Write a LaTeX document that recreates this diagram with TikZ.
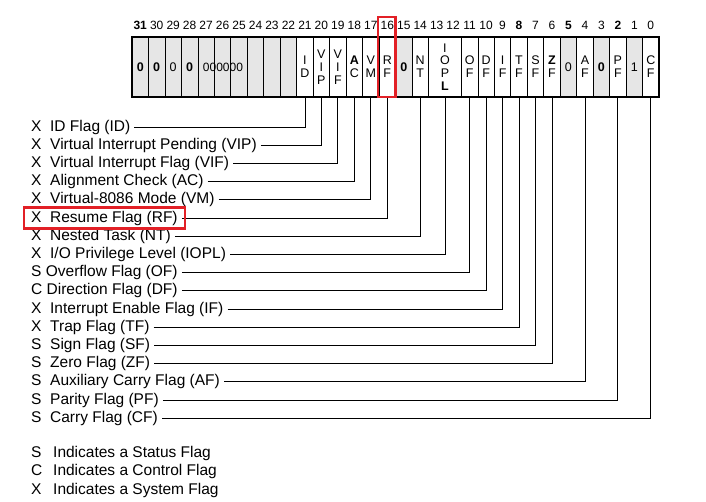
\documentclass[tikz,border=0pt]{standalone}
\usepackage{fontspec}
\setmainfont{Liberation Sans}
\usepackage{xcolor}
\usetikzlibrary{fit}
\definecolor{regGray}{RGB}{230,230,230}
\definecolor{markRed}{RGB}{226,32,38}
\newcommand{\kind}[1]{\makebox[19pt][l]{#1}}
\newcommand{\legkind}[1]{\makebox[22pt][l]{#1}}
\tikzset{
    bit-cell/.style = {draw, line width=0.7pt, minimum width=16.47pt, minimum height=60pt, inner sep=0pt, outer sep=0pt, align=center, font=\fontsize{12.5}{12.8}\selectfont},
    res-cell/.style = {bit-cell, fill=regGray},
    bit-num/.style = {inner sep=0pt, font=\fontsize{12}{12.5}\selectfont},
    flag-label/.style = {anchor=west, inner sep=0pt, font=\fontsize{15.5}{18}\selectfont},
    flag-line/.style = {line width=0.8pt},
    red-mark/.style = {draw=markRed, line width=2.3pt},
}

\begin{document}
\begin{tikzpicture}[x=1pt, y=-1pt]
\useasboundingbox (0,0) rectangle (706,502);
% bit numbers
\foreach \b in {0,1,3,4,6,7,9,10,...,30} {
    \pgfmathsetmacro\cx{132+(31.5-\b)*16.47}
    \node[bit-num] (num-\b) at (\cx,25) {\b};
}
\foreach \b in {2,5,8,31} {
    \pgfmathsetmacro\cx{132+(31.5-\b)*16.47}
    \node[bit-num, font=\fontsize{12}{12.5}\selectfont\bfseries] (num-\b) at (\cx,25) {\b};
}
% reserved bits
\foreach \b/\t in {31/\textbf{0}, 30/\textbf{0}, 29/0, 28/\textbf{0}, 27/{}, 26/{}, 25/{}, 24/{}, 23/{}, 22/{}, 15/\textbf{0}, 5/0, 3/\textbf{0}, 1/1} {
    \pgfmathsetmacro\cx{132+(31.5-\b)*16.47}
    \node[res-cell] (cell-\b) at (\cx,67) {\t};
}
\node[bit-num] (res-zeros) at (223,67) {000000};
% flag bits
\foreach \b/\n/\t in {21/ID/{I\\D}, 20/VIP/{V\\I\\P}, 19/VIF/{V\\I\\F}, 18/AC/{\textbf{A}\\C}, 17/VM/{V\\M}, 16/RF/{R\\F}, 14/NT/{N\\T}, 11/OF/{O\\F}, 10/DF/{D\\F}, 9/IF/{I\\F}, 8/TF/{T\\F}, 7/SF/{S\\F}, 6/ZF/{\textbf{Z}\\F}, 4/AF/{A\\F}, 2/PF/{P\\F}, 0/CF/{C\\F}} {
    \pgfmathsetmacro\cx{132+(31.5-\b)*16.47}
    \node[bit-cell] (cell-\n) at (\cx,67) {\t};
}
\node[bit-cell, minimum width=32.94pt] (cell-IOPL) at (444.93,67) {I\\O\\P\\\textbf{L}};
\draw[line width=2.4pt] (cell-31.north west) rectangle (cell-CF.south east);
% flag names
\foreach \n/\t [count=\k from 0] in {ID/{\kind{X}ID Flag (ID)}, VIP/{\kind{X}Virtual Interrupt Pending (VIP)}, VIF/{\kind{X}Virtual Interrupt Flag (VIF)}, AC/{\kind{X}Alignment Check (AC)}, VM/{\kind{X}Virtual-8086 Mode (VM)}, RF/{\kind{X}Resume Flag (RF)}, NT/{\kind{X}Nested Task (NT)}, IOPL/{\kind{X}I/O Privilege Level (IOPL)}, OF/{S Overflow Flag (OF)~}, DF/{C Direction Flag (DF)~}, IF/{\kind{X}Interrupt Enable Flag (IF)}, TF/{\kind{X}Trap Flag (TF)}, SF/{\kind{S}Sign Flag (SF)}, ZF/{\kind{S}Zero Flag (ZF)}, AF/{\kind{S}Auxiliary Carry Flag (AF)}, PF/{\kind{S}Parity Flag (PF)}, CF/{\kind{S}Carry Flag (CF)}} {
    \node[flag-label] (lbl-\n) at (31,127+18.2*\k) {\t};
    \draw[flag-line] ([xshift=4pt]lbl-\n.east) -| (cell-\n.south);
}
% legend
\node[flag-label] (leg-S) at (31,453) {\legkind{S}Indicates a Status Flag};
\node[flag-label] (leg-C) at (31,471.5) {\legkind{C}Indicates a Control Flag};
\node[flag-label] (leg-X) at (31,490) {\legkind{X}Indicates a System Flag};
% resume flag marks
\node[red-mark, fit=(lbl-RF), inner xsep=7pt, inner ysep=3pt] (mark-lbl) {};
\coordinate (rf-top) at (cell-RF.east |- num-16.north);
\draw[red-mark] ([xshift=-1pt]cell-RF.south west) rectangle ([yshift=3.5pt]rf-top);
\end{tikzpicture}
\end{document}
